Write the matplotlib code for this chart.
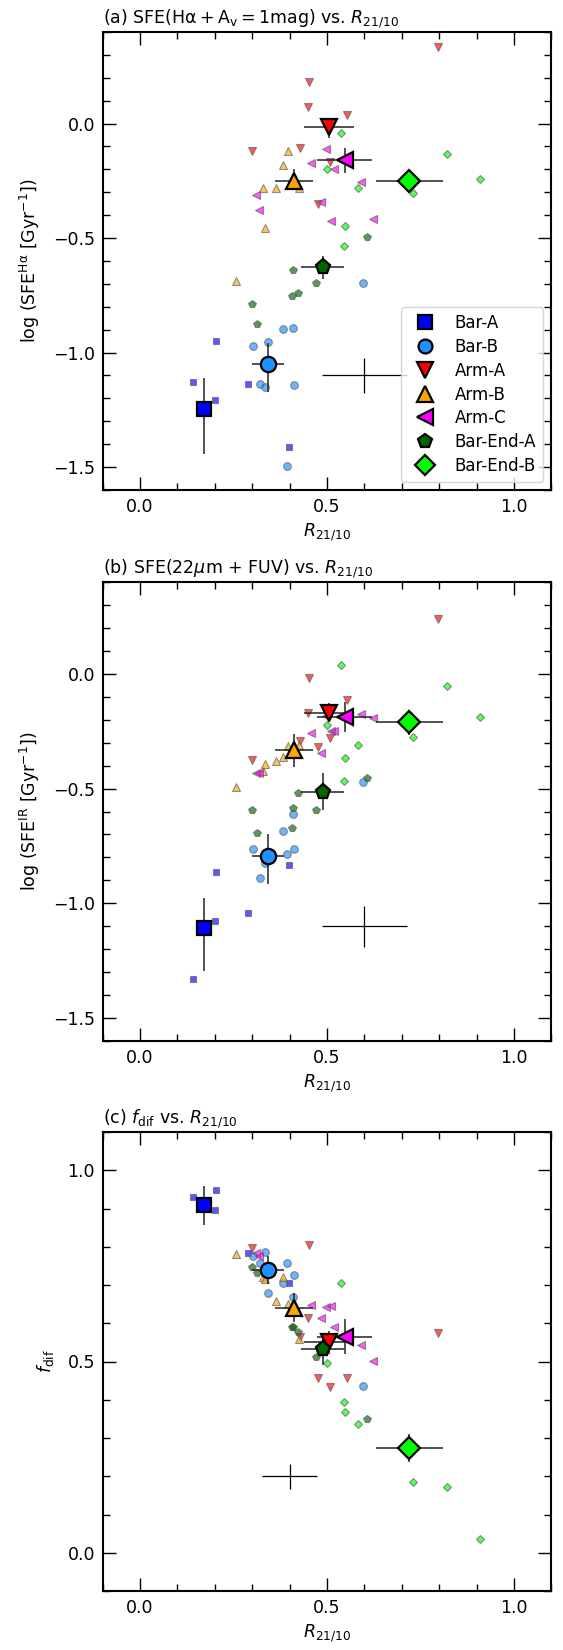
import matplotlib
matplotlib.use('Agg')
import matplotlib.pyplot as plt
from matplotlib.ticker import MultipleLocator
from matplotlib.lines import Line2D

plt.rcParams['font.family'] = ['DejaVu Sans']
plt.rcParams['font.size'] = 12.5
plt.rcParams['mathtext.fontset'] = 'dejavusans'

categories = ['Bar-A', 'Bar-B', 'Arm-A', 'Arm-B', 'Arm-C', 'Bar-End-A', 'Bar-End-B']
colors = ['blue', 'dodgerblue', 'red', 'orange', 'magenta', 'darkgreen', 'lime']
markers = ['s', 'o', 'v', '^', '<', 'p', 'D']

# ---- individual regions: R21/10 ----
r_bar_a = [0.142, 0.201, 0.203, 0.288, 0.399]
r_bar_b = [0.302, 0.321, 0.334, 0.342, 0.382, 0.394, 0.410, 0.411, 0.596]
r_arm_a = [0.300, 0.428, 0.449, 0.451, 0.476, 0.507, 0.553, 0.798]
r_arm_b = [0.256, 0.330, 0.333, 0.363, 0.383, 0.397, 0.426]
r_arm_c = [0.309, 0.317, 0.457, 0.483, 0.496, 0.511, 0.518, 0.590, 0.624]
r_bend_a = [0.300, 0.314, 0.406, 0.409, 0.423, 0.470, 0.608]
r_bend_b = [0.501, 0.537, 0.545, 0.548, 0.582, 0.729, 0.822, 0.910]

# ---- (a) log SFE(Halpha) ----
ha_bar_a = [-1.130, -1.208, -0.948, -1.136, -1.413]
ha_bar_b = [-0.969, -1.136, -1.152, -0.952, -0.898, -1.494, -0.891, -1.141, -0.698]
ha_arm_a = [-0.121, -0.108, 0.071, 0.183, -0.350, -0.167, 0.038, 0.333]
ha_arm_b = [-0.687, -0.281, -0.455, -0.283, -0.182, -0.118, -0.283]
ha_arm_c = [-0.310, -0.378, -0.170, -0.344, -0.109, -0.426, -0.198, -0.253, -0.417]
ha_bend_a = [-0.789, -0.873, -0.755, -0.641, -0.739, -0.698, -0.497]
ha_bend_b = [-0.198, -0.041, -0.536, -0.449, -0.281, -0.302, -0.132, -0.244]

# ---- (b) log SFE(IR) ----
ir_bar_a = [-1.332, -1.077, -0.864, -1.041, -0.832]
ir_bar_b = [-0.762, -0.888, -0.823, -0.800, -0.686, -0.787, -0.610, -0.765, -0.471]
ir_arm_a = [-0.374, -0.291, -0.169, -0.019, -0.321, -0.279, -0.113, 0.237]
ir_arm_b = [-0.494, -0.424, -0.392, -0.381, -0.363, -0.315, -0.310]
ir_arm_c = [-0.433, -0.433, -0.257, -0.346, -0.182, -0.251, -0.251, -0.177, -0.193]
ir_bend_a = [-0.593, -0.694, -0.672, -0.584, -0.519, -0.593, -0.453]
ir_bend_b = [-0.222, 0.039, -0.468, -0.365, -0.310, -0.276, -0.054, -0.189]

# ---- (c) f_dif ----
fd_bar_a = [0.929, 0.895, 0.949, 0.784, 0.705]
fd_bar_b = [0.776, 0.757, 0.787, 0.678, 0.705, 0.757, 0.668, 0.726, 0.437]
fd_arm_a = [0.798, 0.565, 0.615, 0.805, 0.458, 0.433, 0.458, 0.574]
fd_arm_b = [0.781, 0.720, 0.716, 0.659, 0.720, 0.650, 0.558]
fd_arm_c = [0.784, 0.776, 0.647, 0.615, 0.643, 0.646, 0.591, 0.544, 0.502]
fd_bend_a = [0.746, 0.731, 0.589, 0.590, 0.576, 0.513, 0.349]
fd_bend_b = [0.496, 0.705, 0.395, 0.369, 0.336, 0.184, 0.172, 0.035]

# ---- group means ----
mean_r = [0.171, 0.342, 0.505, 0.412, 0.547, 0.488, 0.720]
mean_r_err = [0.020, 0.043, 0.066, 0.050, 0.073, 0.058, 0.090]

mean_ha = [-1.246, -1.048, -0.016, -0.249, -0.161, -0.627, -0.249]
mean_ha_lo = [0.197, 0.123, 0.047, 0.043, 0.055, 0.050, 0.040]
mean_ha_hi = [0.134, 0.089, 0.035, 0.050, 0.055, 0.050, 0.040]

mean_ir = [-1.106, -0.794, -0.169, -0.334, -0.189, -0.513, -0.212]
mean_ir_lo = [0.188, 0.120, 0.040, 0.070, 0.065, 0.080, 0.055]
mean_ir_hi = [0.131, 0.094, 0.040, 0.070, 0.065, 0.080, 0.055]

mean_fd = [0.908, 0.739, 0.550, 0.641, 0.565, 0.532, 0.274]
mean_fd_err = [0.050, 0.037, 0.030, 0.037, 0.045, 0.040, 0.037]

# typical uncertainty crosses
typ_a = (0.60, -1.10, 0.114, 0.077)
typ_b = (0.60, -1.10, 0.114, 0.090)
typ_c = (0.40, 0.20, 0.074, 0.033)

titles = [r'(a) SFE(H$\mathrm{\alpha + A_v = 1}$mag) vs. $R_{21/10}$',
          r'(b) SFE(22$\mu$m + FUV) vs. $R_{21/10}$',
          r'(c) $f_{\rm dif}$ vs. $R_{21/10}$']
ylabels = [r'log (SFE$^{\rm H\alpha}$ [Gyr$^{-1}$])',
           r'log (SFE$^{\rm IR}$ [Gyr$^{-1}$])',
           r'$f_{\rm dif}$']

r_all = [r_bar_a, r_bar_b, r_arm_a, r_arm_b, r_arm_c, r_bend_a, r_bend_b]
panels_y = [
    [ha_bar_a, ha_bar_b, ha_arm_a, ha_arm_b, ha_arm_c, ha_bend_a, ha_bend_b],
    [ir_bar_a, ir_bar_b, ir_arm_a, ir_arm_b, ir_arm_c, ir_bend_a, ir_bend_b],
    [fd_bar_a, fd_bar_b, fd_arm_a, fd_arm_b, fd_arm_c, fd_bend_a, fd_bend_b],
]
panels_mean = [
    (mean_ha, [mean_ha_lo, mean_ha_hi]),
    (mean_ir, [mean_ir_lo, mean_ir_hi]),
    (mean_fd, mean_fd_err),
]
typs = [typ_a, typ_b, typ_c]
ylims = [(-1.6, 0.4), (-1.6, 0.4), (-0.1, 1.1)]

small_ms = {'s': 5, 'o': 5.5, 'v': 5.5, '^': 5.5, '<': 5.5, 'p': 5.5, 'D': 4.5}
big_ms = {'s': 10, 'o': 11, 'v': 12, '^': 12, '<': 12, 'p': 11, 'D': 11}
leg_ms = {'s': 9.5, 'o': 10, 'v': 11, '^': 11, '<': 11, 'p': 10, 'D': 10}

fig = plt.figure(figsize=(5.63, 16.5), dpi=100)
W, H = 563.0, 1650.0
left = 102.7 / W
width = 448.6 / W
tops = [32, 582, 1132]
heights = [458, 459, 459]

for i in range(3):
    ax = fig.add_axes([left, 1 - (tops[i] + heights[i]) / H, width, heights[i] / H])
    ys = panels_y[i]
    for k in range(len(categories)):
        m = markers[k]
        ax.plot(r_all[k], ys[k], linestyle='none', marker=m, ms=small_ms[m],
                color=colors[k], alpha=0.65, mec='0.35', mew=0.8, zorder=3)
    # typical error cross
    tx, ty, txe, tye = typs[i]
    ax.errorbar([tx], [ty], xerr=[txe], yerr=[tye], fmt='none', ecolor='k',
                elinewidth=0.9, capsize=0, zorder=2)
    mv, me = panels_mean[i]
    for k in range(len(categories)):
        m = markers[k]
        if isinstance(me[0], list):
            yerr = [[me[0][k]], [me[1][k]]]
        else:
            yerr = [me[k]]
        ax.errorbar([mean_r[k]], [mv[k]], xerr=[mean_r_err[k]], yerr=yerr,
                    fmt='none', ecolor='#222222', elinewidth=1.1, capsize=0, zorder=4)
        ax.plot([mean_r[k]], [mv[k]], linestyle='none', marker=m, ms=big_ms[m],
                color=colors[k], mec='k', mew=1.6, zorder=5)
    ax.set_xlim(-0.1, 1.1)
    ax.set_ylim(*ylims[i])
    ax.xaxis.set_major_locator(MultipleLocator(0.5))
    ax.xaxis.set_minor_locator(MultipleLocator(0.1))
    ax.yaxis.set_major_locator(MultipleLocator(0.5))
    ax.yaxis.set_minor_locator(MultipleLocator(0.1))
    ax.tick_params(which='both', direction='in', top=True, right=True, width=1.0,
                   labelsize=12.5, pad=5.5)
    ax.tick_params(which='major', length=9.5)
    ax.tick_params(which='minor', length=5)
    for sp in ax.spines.values():
        sp.set_linewidth(1.5)
    ax.set_title(titles[i], loc='left', fontsize=12.5)
    ax.set_ylabel(ylabels[i], fontsize=12.5, labelpad=8)
    ax.set_xlabel(r'$R_{21/10}$', fontsize=12.5)
    if i == 0:
        handles = [Line2D([], [], linestyle='none', marker=markers[k], ms=leg_ms[markers[k]],
                          color=colors[k], mec='k', mew=1.6) for k in range(len(categories))]
        ax.legend(handles, categories, loc='lower right', fontsize=12,
                  labelspacing=0.35, borderpad=0.4)

fig.savefig('out.png', dpi=100)
